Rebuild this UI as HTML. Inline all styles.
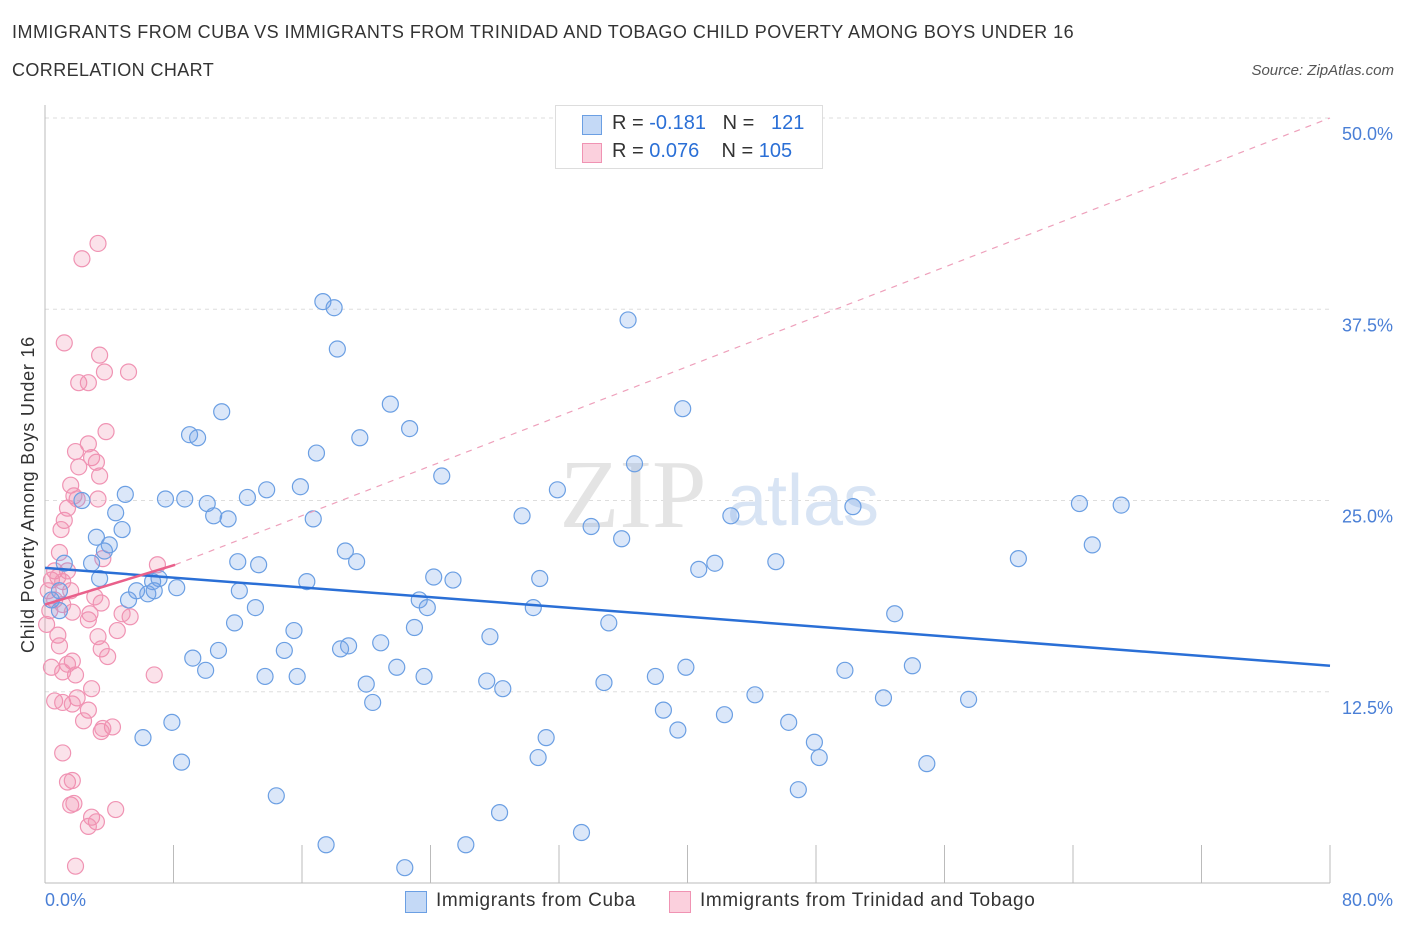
<!DOCTYPE html>
<html><head><meta charset="utf-8"><style>
body{margin:0;background:#fff;font-family:"Liberation Sans",sans-serif;}
#wrap{position:relative;width:1406px;height:930px;overflow:hidden;}
.t{position:absolute;white-space:nowrap;}
</style></head><body>
<div id="wrap">
<div class="t" style="left:12px;top:22px;font-size:18px;letter-spacing:0.48px;color:#333;">IMMIGRANTS FROM CUBA VS IMMIGRANTS FROM TRINIDAD AND TOBAGO CHILD POVERTY AMONG BOYS UNDER 16</div>
<div class="t" style="left:12px;top:60px;font-size:18px;letter-spacing:0.4px;color:#333;">CORRELATION CHART</div>
<div class="t" style="right:12px;top:62px;font-size:15px;color:#555;font-style:italic;">Source: ZipAtlas.com</div>
<svg id="svg" width="1406" height="930" style="position:absolute;left:0;top:0"></svg>
</div>
<script>
const blueX=[17.3,18.0,36.3,18.2,11.0,21.5,39.7,9.0,9.5,22.7,19.6,16.9,36.7,24.7,15.9,13.8,5.0,7.5,8.7,31.9,10.1,12.6,2.3,4.4,10.5,11.4,16.7,29.7,42.7,50.3,64.4,67.0,34.0,4.8,3.2,35.9,4.0,3.7,18.7,19.4,12.0,13.3,65.2,60.6,45.5,41.7,40.7,2.9,1.2,3.4,7.1,6.7,8.2,12.1,16.3,24.2,25.4,30.8,5.2,6.4,5.7,6.8,23.3,23.8,30.4,13.1,11.8,0.9,0.4,0.9,52.9,35.1,23.0,15.5,20.9,27.7,18.9,18.4,14.9,10.8,9.2,10.0,21.9,23.6,13.7,15.7,27.5,28.5,20.0,20.4,34.8,38.0,39.9,49.8,54.0,44.2,52.2,57.5,38.5,42.3,7.9,6.1,39.4,46.3,31.2,47.9,30.7,48.2,8.5,54.9,46.9,14.4,28.3,33.4,17.5,26.2,22.4];
const blueY=[38.0,37.6,36.8,34.9,30.8,31.3,31.0,29.3,29.1,29.7,29.1,28.1,27.4,26.6,25.9,25.7,25.4,25.1,25.1,25.7,24.8,25.2,25.0,24.2,24.0,23.8,23.8,24.0,24.0,24.6,24.8,24.7,23.3,23.1,22.6,22.5,22.1,21.7,21.7,21.0,21.0,20.8,22.1,21.2,21.0,20.9,20.5,20.9,20.9,19.9,19.9,19.7,19.3,19.1,19.7,20.0,19.8,19.9,18.5,18.9,19.1,19.1,18.5,18.0,18.0,18.0,17.0,19.1,18.5,17.8,17.6,17.0,16.7,16.5,15.7,16.1,15.5,15.3,15.2,15.2,14.7,13.9,14.1,13.5,13.5,13.5,13.2,12.7,13.0,11.8,13.1,13.5,14.1,13.9,14.2,12.3,12.1,12.0,11.3,11.0,10.5,9.5,10.0,10.5,9.5,9.2,8.2,8.2,7.9,7.8,6.1,5.7,4.6,3.3,2.5,2.5,1.0];
const pinkX=[3.3,2.3,1.2,3.4,3.7,5.2,2.1,2.7,3.8,2.7,1.9,2.9,3.2,2.1,3.4,1.6,1.8,2.0,3.3,1.4,1.2,1.0,0.9,3.6,7.0,0.6,1.4,0.4,0.8,1.1,0.2,1.6,0.6,1.1,0.3,1.7,2.8,3.5,5.3,2.7,0.1,4.8,3.1,4.5,0.8,3.3,0.9,3.5,3.9,1.7,1.4,0.4,1.1,1.9,6.8,2.9,2.0,0.6,1.1,1.7,2.7,2.4,4.2,3.5,3.6,1.1,1.4,1.7,1.6,1.8,4.4,2.9,3.2,2.7,1.9];
const pinkY=[41.8,40.8,35.3,34.5,33.4,33.4,32.7,32.7,29.5,28.7,28.2,27.8,27.5,27.2,26.6,26.0,25.3,25.1,25.1,24.5,23.7,23.1,21.6,21.2,20.8,20.4,20.4,19.8,20.0,19.7,19.1,19.1,18.5,18.2,17.8,17.7,17.6,18.3,17.4,17.2,16.9,17.6,18.7,16.5,16.2,16.1,15.5,15.3,14.8,14.5,14.3,14.1,13.8,13.6,13.6,12.7,12.1,11.9,11.8,11.7,11.3,10.6,10.2,9.9,10.1,8.5,6.6,6.7,5.1,5.2,4.8,4.3,4.0,3.7,1.1];
const blueTrend=[20.6,14.2];
const pinkTrend=[18.2,20.8,8.1];
const yTicks=[12.5,25,37.5,50];
const yTickLabels=["12.5%","25.0%","37.5%","50.0%"];
const xTicks=[0,8,16,24,32,40,48,56,64,72,80];

const X0=45,X1=1330,Y0=883,Y1=118;
const sx=v=>X0+(v/80)*(X1-X0);
const sy=v=>Y0-(v/50)*(Y0-Y1);
const svg=document.getElementById('svg');
const NS='http://www.w3.org/2000/svg';
function mk(tag,attrs){const e=document.createElementNS(NS,tag);for(const k in attrs)e.setAttribute(k,attrs[k]);svg.appendChild(e);return e;}

yTicks.forEach((v,i)=>{
 const l=mk('line',{x1:X0,x2:X1,y1:sy(v),y2:sy(v),stroke:'#ddd','stroke-dasharray':'4,4'});
 
 
 const t=mk('text',{x:1393,y:sy(v)+22,'text-anchor':'end','font-size':18,fill:'#4a7fd6','font-family':'Liberation Sans, sans-serif'});
 t.textContent=yTickLabels[i];
 
 
});
const ax=mk('line',{x1:X0,x2:X0,y1:105,y2:Y0,stroke:'#bbb'});


const bx=mk('line',{x1:X0,x2:X1,y1:Y0,y2:Y0,stroke:'#bbb'});


xTicks.forEach(v=>{
 const l=mk('line',{x1:sx(v),x2:sx(v),y1:845,y2:Y0,stroke:'#bbb'});
 
 
});
const wm=mk('text',{x:633,y:527,'text-anchor':'middle','font-size':98,fill:'#e4e4e4','font-family':'Liberation Serif, serif'});
wm.textContent='ZIP';


const wm2=mk('text',{x:803,y:525,'text-anchor':'middle','font-size':72,fill:'#d8e4f4','font-family':'Liberation Sans, sans-serif'});
wm2.textContent='atlas';



pinkX.forEach((x,i)=>{
 const c=mk('circle',{cx:sx(x),cy:sy(pinkY[i]),r:8,fill:'rgba(240,140,170,0.25)',stroke:'#f093b3','stroke-width':1.2});
 
 
});
blueX.forEach((x,i)=>{
 const c=mk('circle',{cx:sx(x),cy:sy(blueY[i]),r:8,fill:'rgba(110,160,230,0.25)',stroke:'#6b9fe3','stroke-width':1.2});
 
 
});
const dl=mk('line',{x1:sx(pinkTrend[2]),y1:sy(pinkTrend[1]),x2:sx(80),y2:sy(50),stroke:'#eea0bb','stroke-dasharray':'6,6','stroke-width':1.2});


const bl=mk('line',{x1:sx(0),y1:sy(blueTrend[0]),x2:sx(80),y2:sy(blueTrend[1]),stroke:'#2a6fd6','stroke-width':2.5});


const pl=mk('line',{x1:sx(0),y1:sy(pinkTrend[0]),x2:sx(pinkTrend[2]),y2:sy(pinkTrend[1]),stroke:'#e9608b','stroke-width':2.5});


</script>
<div class="t" style="left:555px;top:105px;width:266px;height:62px;border:1px solid #ddd;background:#fff;">
 <div style="position:absolute;left:26px;top:9px;width:18px;height:18px;background:#c4d9f6;border:1px solid #6b9fe3;"></div>
 <div class="t" style="left:56px;top:6px;font-size:20px;color:#333;">R = <span style="color:#2a6fd6">-0.181</span>&nbsp;&nbsp;&nbsp;N = &nbsp;&nbsp;<span style="color:#2a6fd6">121</span></div>
 <div style="position:absolute;left:26px;top:37px;width:18px;height:18px;background:#fbd0dd;border:1px solid #f093b3;"></div>
 <div class="t" style="left:56px;top:34px;font-size:20px;color:#333;">R = <span style="color:#2a6fd6">0.076</span>&nbsp;&nbsp;&nbsp;&nbsp;N = <span style="color:#2a6fd6">105</span></div>
</div>
<div class="t" style="left:18px;top:653px;transform:rotate(-90deg);transform-origin:0 0;font-size:18px;letter-spacing:0.75px;color:#333;">Child Poverty Among Boys Under 16</div>
<div class="t" style="left:45px;top:890px;font-size:18px;color:#4a7fd6;">0.0%</div>
<div class="t" style="right:13px;top:890px;font-size:18px;color:#4a7fd6;">80.0%</div>
<div style="position:absolute;left:405px;top:891px;width:20px;height:20px;background:#c4d9f6;border:1px solid #6b9fe3;"></div>
<div class="t" style="left:436px;top:890px;font-size:19px;letter-spacing:0.6px;color:#333;">Immigrants from Cuba</div>
<div style="position:absolute;left:669px;top:891px;width:20px;height:20px;background:#fbd0dd;border:1px solid #f093b3;"></div>
<div class="t" style="left:700px;top:890px;font-size:19px;letter-spacing:0.6px;color:#333;">Immigrants from Trinidad and Tobago</div>
</body></html>
